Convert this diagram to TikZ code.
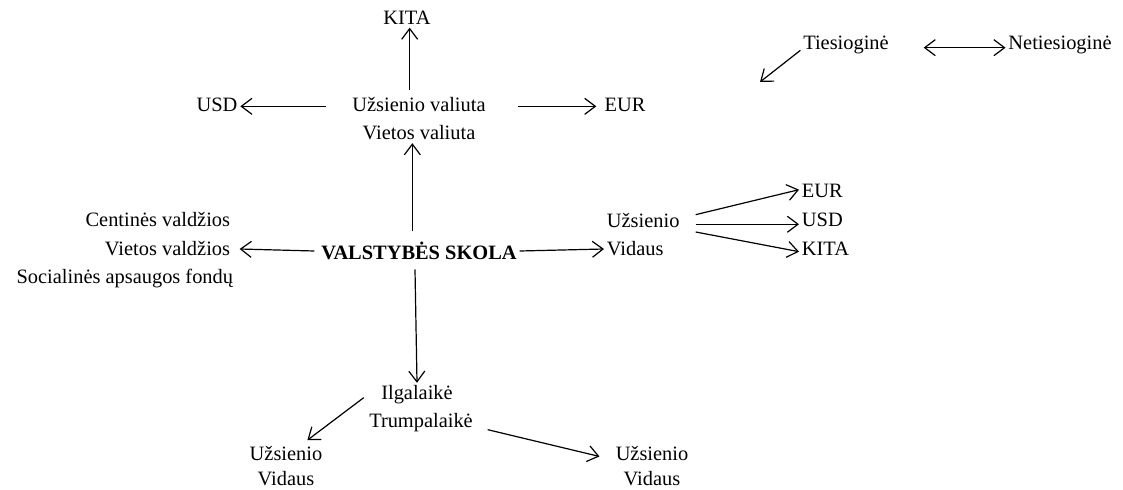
\documentclass[tikz,border=0pt]{standalone}
\usepackage{fontspec}
\setmainfont{Liberation Serif}
\usepackage{tikz}
\usetikzlibrary{arrows.meta}

\tikzset{
  txt/.style={inner sep=2pt, font=\fontsize{15.3}{18}\selectfont},
  arr/.style={-{Straight Barb[length=8pt,width=12pt]}, line width=0.9pt},
  darr/.style={{Straight Barb[length=8pt,width=12pt]}-{Straight Barb[length=8pt,width=12pt]}, line width=0.9pt}
}

\begin{document}
\begin{tikzpicture}[x=0.75pt,y=-0.75pt]
\useasboundingbox (0,0) rectangle (1123,489);

% centre
\node[txt, font=\fontsize{15.3}{18}\selectfont\bfseries] (skola) at (419,251) {VALSTYBĖS SKOLA};

% valiuta
\node[txt] (uzval) at (419,105) {Užsienio valiuta};
\node[txt] (vietval) at (419,133) {Vietos valiuta};
\node[txt] (kita) at (407,18) {KITA};
\node[txt] (usd) at (217,105) {USD};
\node[txt] (eur) at (625,105) {EUR};

% valdzios
\node[txt, anchor=east] (centin) at (233,219) {Centinės valdžios};
\node[txt, anchor=east] (vietvald) at (233,249) {Vietos valdžios};
\node[txt, anchor=east] (social) at (236,279) {Socialinės apsaugos fondų};

% uzsienio / vidaus
\node[txt, anchor=west] (uzs1) at (604,220) {Užsienio};
\node[txt, anchor=west] (vid1) at (604,249) {Vidaus};
\node[txt, anchor=west] (eur2) at (799,191) {EUR};
\node[txt, anchor=west] (usd2) at (799,220) {USD};
\node[txt, anchor=west] (kita2) at (799,249) {KITA};

% tiesiogine
\node[txt] (tiesiog) at (846,45) {Tiesioginė};
\node[txt] (netiesiog) at (1060,45) {Netiesioginė};
\coordinate (tfree) at (760,82);

% terminai
\node[txt] (ilg) at (417,395) {Ilgalaikė};
\node[txt] (trump) at (421,423) {Trumpalaikė};
\node[txt] (uzs3) at (286,453) {Užsienio};
\node[txt] (vid3) at (286,479) {Vidaus};
\node[txt] (uzs4) at (652,453) {Užsienio};
\node[txt] (vid4) at (652,479) {Vidaus};

\draw[arr] ([xshift=-5pt,yshift=6pt]skola.north) -- ([xshift=-5pt]vietval.south);
\draw[arr] ([xshift=-7pt,yshift=4pt]uzval.north) -- ([xshift=2pt]kita.south);
\draw[arr] ([xshift=-18pt,yshift=-1pt]uzval.west) -- ([yshift=-1pt]usd.east);
\draw[arr] ([xshift=22pt,yshift=-1pt]uzval.east) -- ([xshift=-4pt,yshift=-1pt]eur.west);
\draw[arr] ([xshift=-3pt]skola.west) -- ([xshift=5pt]vietvald.east);
\draw[arr] (skola.east) -- (vid1.west);
\draw[arr] ([xshift=10pt,yshift=4pt]uzs1.east) -- ([yshift=1pt]eur2.west);
\draw[arr] ([xshift=10pt,yshift=-3.2pt]uzs1.east) -- ([yshift=-3.2pt]usd2.west);
\draw[arr] ([xshift=10pt,yshift=-9pt]uzs1.east) -- ([yshift=-2pt]kita2.west);
\draw[arr] ([xshift=-3pt,yshift=-5pt]skola.south) -- (ilg.north);
\draw[arr] ([xshift=-11pt,yshift=-2pt]ilg.west) -- ([xshift=16pt,yshift=2pt]uzs3.north);
\draw[arr] ([xshift=9pt,yshift=-5pt]trump.east) -- ([xshift=-10pt,yshift=5pt]uzs4.south west);
\draw[arr] ([yshift=-4pt]tiesiog.west) -- (tfree);
\draw[darr] ([xshift=24pt,yshift=-2pt]tiesiog.east) -- ([yshift=-2pt]netiesiog.west);
\end{tikzpicture}
\end{document}
